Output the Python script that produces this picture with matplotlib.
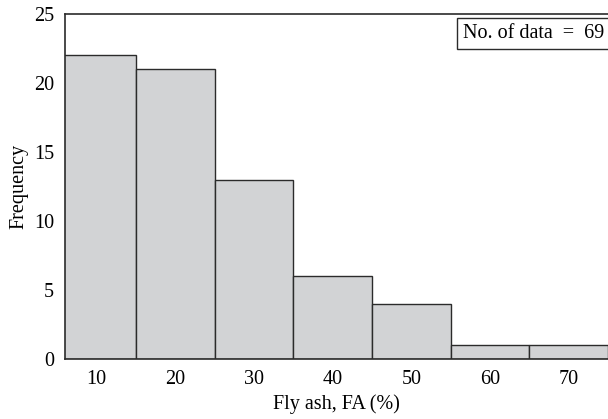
import matplotlib
matplotlib.use("Agg")
import matplotlib.pyplot as plt

centers = [10, 20, 30, 40, 50, 60, 70]
freq = [22, 21, 13, 6, 4, 1, 1]
yticks = [0, 5, 10, 15, 20, 25]
n_data = 69

plt.rcParams['font.family'] = ['Liberation Serif', 'DejaVu Serif']

fig = plt.figure(figsize=(6.08, 4.19), dpi=100)
ax = fig.add_axes([65/608, 1-359/419, 1-65/608, (359-14)/419])
ax.bar(centers, freq, width=10, color='#d2d3d5', edgecolor='#2b2b2b', linewidth=1.0, zorder=2)
ax.set_xlim(6.0, 75)
ax.set_ylim(0, 25)
ax.set_xticks(centers)
ax.set_yticks(yticks)
ax.tick_params(length=0, labelsize=14.5, pad=8)
for s in ['left', 'top', 'bottom']:
    ax.spines[s].set_color('#2b2b2b')
    ax.spines[s].set_linewidth(1.2)
ax.spines['right'].set_visible(False)
ax.set_xlabel('Fly ash, FA (%)', fontsize=14.5, labelpad=4)
ax.set_ylabel('Frequency', fontsize=14.5, labelpad=4)
ax.text(0.993, 0.972, f'No. of data  =  {n_data}', transform=ax.transAxes, ha='right', va='top',
        fontsize=14.5, bbox=dict(boxstyle='square,pad=0.3', facecolor='white', edgecolor='#2b2b2b', linewidth=1.0))
fig.savefig('out.png', dpi=100)
